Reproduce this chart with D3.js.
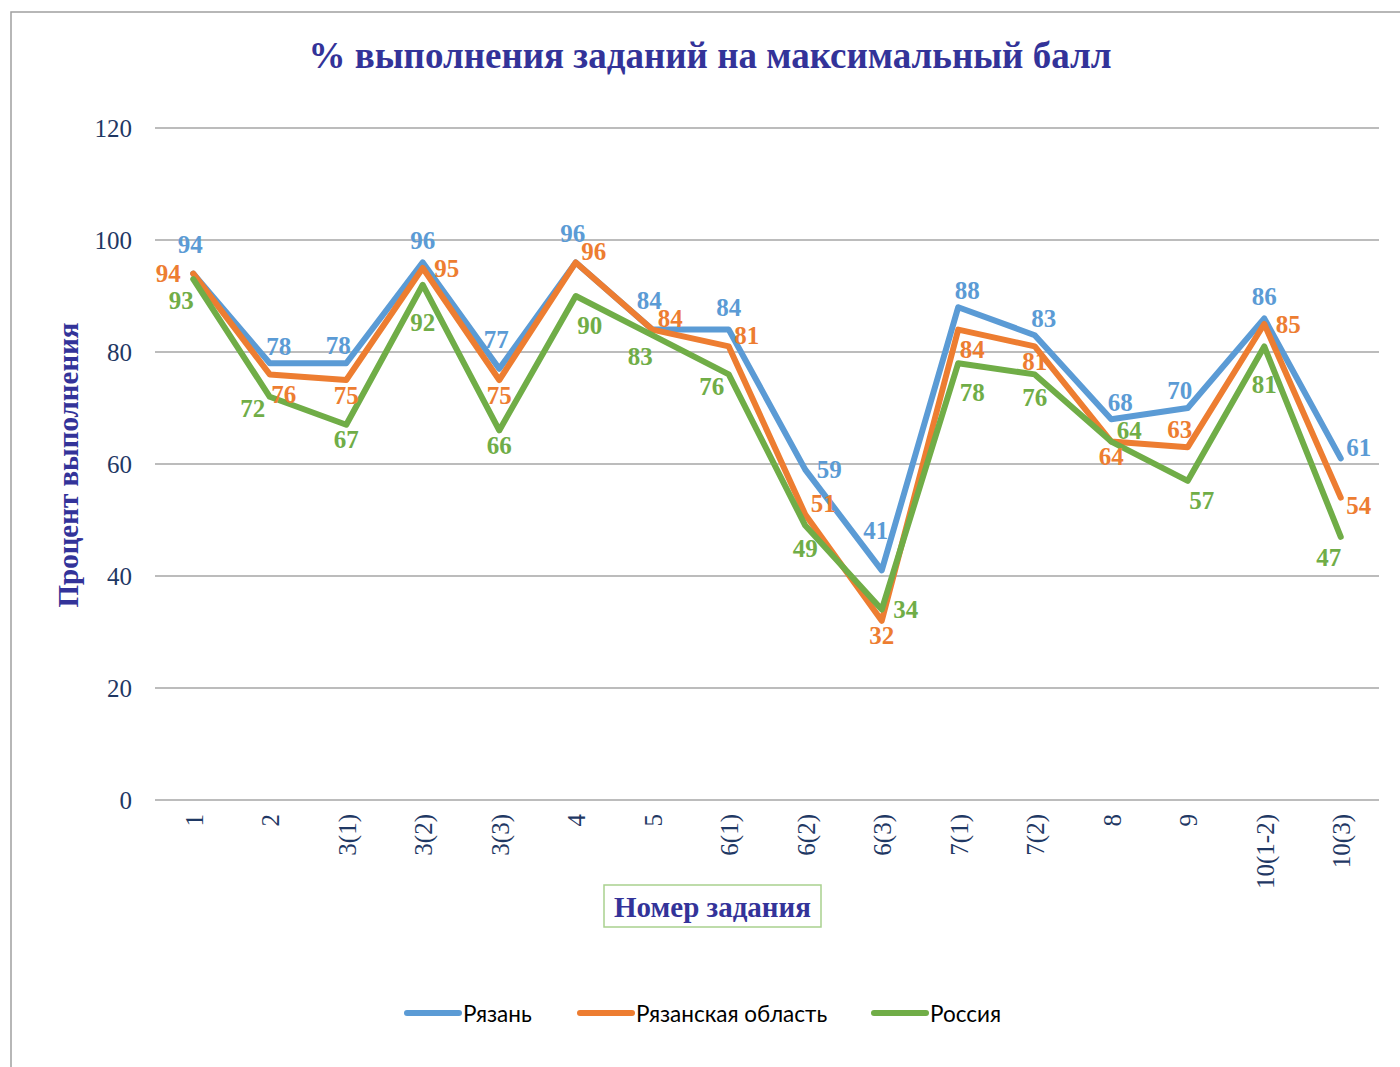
<!DOCTYPE html>
<html>
<head>
<meta charset="utf-8">
<script src="https://cdn.jsdelivr.net/npm/d3@7"></script>
<style>
  body { margin: 0; background: #fff; }
  svg { display: block; }
</style>
</head>
<body>
<svg width="1400" height="1067"></svg>
<script>
// chart data
var categories = ["1", "2", "3(1)", "3(2)", "3(3)", "4", "5", "6(1)", "6(2)", "6(3)", "7(1)", "7(2)", "8", "9", "10(1-2)", "10(3)"];
var ryazan  = [94, 78, 78, 96, 77, 96, 84, 84, 59, 41, 88, 83, 68, 70, 86, 61];
var oblast  = [94, 76, 75, 95, 75, 96, 84, 81, 51, 32, 84, 81, 64, 63, 85, 54];
var russia  = [93, 72, 67, 92, 66, 90, 83, 76, 49, 34, 78, 76, 64, 57, 81, 47];
var yTicks  = [0, 20, 40, 60, 80, 100, 120];

// where each data label sits relative to its point
var ryazanPos = ["N2", "NE", "NW", "N", "N2", "N2", "N2", "N", "E", "NNW", "NE", "NE", "NE", "NW", "N", "ENE"];
var oblastPos = ["W", "SE", "S", "E", "S", "ENE", "ENE", "ENE", "ENE", "S", "SE", "S", "S", "NW", "E", "ESE"];
var russiaPos = ["SW", "WSW", "S", "SS", "S", "SE2", "SW", "WSW", "S2", "E", "SE2", "S2", "ENE", "SE", "SS", "SW"];

var series = [
  {name: "Рязань", values: ryazan, pos: ryazanPos, color: "#5B9BD5"},
  {name: "Рязанская область", values: oblast, pos: oblastPos, color: "#ED7D31"},
  {name: "Россия", values: russia, pos: russiaPos, color: "#70AD47"}
];

var offsets = {
  N: [0, -22], N2: [-3, -29], NE: [9, -17], NW: [-8, -18], NNW: [-6, -40],
  E: [24, 0], ENE: [18, -11], ESE: [18, 8], W: [-25, 0],
  S: [0, 15], S2: [0, 23], SS: [0, 38],
  SE: [14, 20], SE2: [14, 29], SW: [-12, 21], WSW: [-17, 12]
};

var svg = d3.select("svg");
var serif = "'Liberation Serif', 'Times New Roman', serif";

// outer frame
svg.append("rect")
  .attr("x", 11).attr("y", 12)
  .attr("width", 1400).attr("height", 1100)
  .attr("fill", "none")
  .attr("stroke", "#a0a0a0")
  .attr("stroke-width", 1.5);

var plot = {left: 155, right: 1379, top: 128, bottom: 800};

var x = d3.scalePoint()
  .domain(categories)
  .range([plot.left, plot.right])
  .padding(0.5);

var y = d3.scaleLinear()
  .domain([0, 120])
  .range([plot.bottom, plot.top]);

// gridlines
svg.append("g")
  .selectAll("line")
  .data(yTicks)
  .enter().append("line")
  .attr("x1", plot.left).attr("x2", plot.right)
  .attr("y1", function(d) { return y(d); })
  .attr("y2", function(d) { return y(d); })
  .attr("stroke", "#a6a6a6")
  .attr("stroke-width", 1.5);

// y axis
var yAxis = d3.axisLeft(y).tickValues(yTicks).tickSize(0).tickPadding(0);
var gY = svg.append("g")
  .attr("transform", "translate(132,0)")
  .call(yAxis);
gY.select(".domain").remove();
gY.selectAll("text")
  .attr("font-family", serif)
  .attr("font-size", 25)
  .attr("fill", "#1F3864");

// x axis
var xAxis = d3.axisBottom(x).tickSize(0).tickPadding(0);
var gX = svg.append("g")
  .attr("transform", "translate(0," + plot.bottom + ")")
  .call(xAxis);
gX.select(".domain").remove();
gX.selectAll("text")
  .attr("font-family", serif)
  .attr("font-size", 25)
  .attr("fill", "#1F3864")
  .attr("text-anchor", "end")
  .attr("dy", null)
  .attr("y", 0)
  .attr("transform", "translate(9,14) rotate(-90)");

// lines
var line = d3.line()
  .x(function(d, i) { return x(categories[i]); })
  .y(function(d) { return y(d); });

svg.append("g")
  .selectAll("path")
  .data(series)
  .enter().append("path")
  .attr("d", function(s) { return line(s.values); })
  .attr("fill", "none")
  .attr("stroke", function(s) { return s.color; })
  .attr("stroke-width", 6)
  .attr("stroke-linejoin", "round")
  .attr("stroke-linecap", "round");

// data labels
series.forEach(function(s) {
  svg.append("g")
    .selectAll("text")
    .data(s.values)
    .enter().append("text")
    .attr("x", function(d, i) { return x(categories[i]) + offsets[s.pos[i]][0]; })
    .attr("y", function(d, i) { return y(d) + offsets[s.pos[i]][1]; })
    .attr("text-anchor", "middle")
    .attr("dominant-baseline", "central")
    .attr("font-family", serif)
    .attr("font-weight", "bold")
    .attr("font-size", 25)
    .attr("fill", s.color)
    .text(function(d) { return d; });
});

// title
svg.append("text")
  .attr("x", 710).attr("y", 55)
  .attr("text-anchor", "middle")
  .attr("dominant-baseline", "central")
  .attr("font-family", serif)
  .attr("font-weight", "bold")
  .attr("font-size", 37)
  .attr("fill", "#333399")
  .text("% выполнения заданий на максимальный балл");

// y title
svg.append("text")
  .attr("transform", "translate(68,465) rotate(-90)")
  .attr("text-anchor", "middle")
  .attr("dominant-baseline", "central")
  .attr("font-family", serif)
  .attr("font-weight", "bold")
  .attr("font-size", 29)
  .attr("fill", "#333399")
  .text("Процент выполнения");

// x title in box
svg.append("rect")
  .attr("x", 604).attr("y", 885)
  .attr("width", 217).attr("height", 42)
  .attr("fill", "none")
  .attr("stroke", "#A9D18E")
  .attr("stroke-width", 1.5);
svg.append("text")
  .attr("x", 712.5).attr("y", 907)
  .attr("text-anchor", "middle")
  .attr("dominant-baseline", "central")
  .attr("font-family", serif)
  .attr("font-weight", "bold")
  .attr("font-size", 29)
  .attr("fill", "#333399")
  .text("Номер задания");

// legend
var legendX = [405, 578, 872];
var legend = svg.append("g")
  .selectAll("g")
  .data(series)
  .enter().append("g")
  .attr("transform", function(d, i) { return "translate(" + legendX[i] + ",1013)"; });
legend.append("line")
  .attr("x1", 2).attr("x2", 54)
  .attr("stroke", function(d) { return d.color; })
  .attr("stroke-width", 6)
  .attr("stroke-linecap", "round");
legend.append("text")
  .attr("x", 58)
  .attr("dominant-baseline", "central")
  .attr("font-family", "Lato, 'Open Sans', sans-serif")
  .attr("font-size", 22.5)
  .attr("fill", "#000")
  .text(function(d) { return d.name; });
</script>
</body>
</html>
